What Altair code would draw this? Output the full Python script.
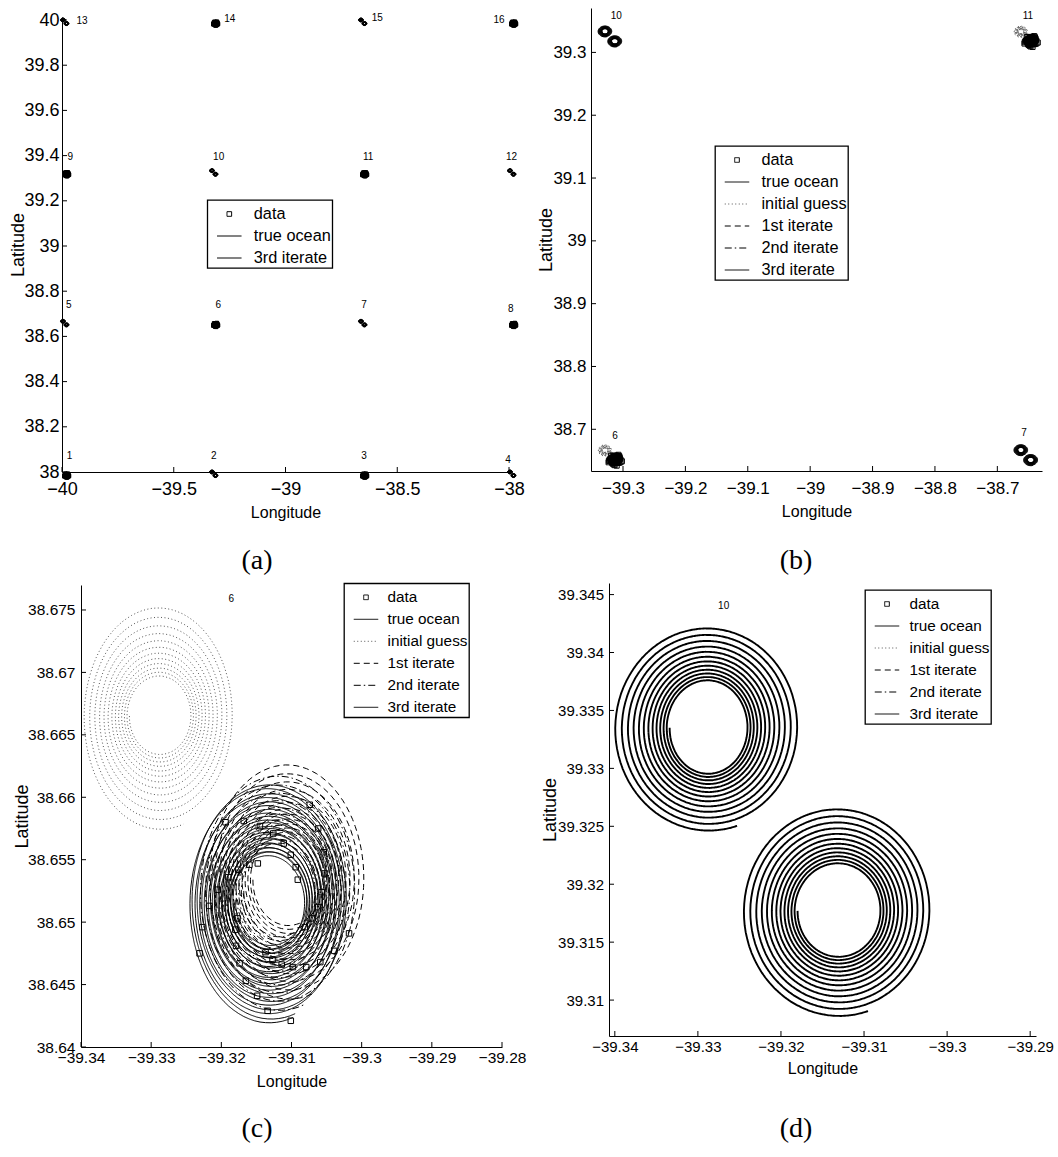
import numpy as np
import pandas as pd
import altair as alt

NARROW = "Liberation Sans Narrow, Arial Narrow, Liberation Sans, sans-serif"
SANS = "Liberation Sans, Arial, sans-serif"
SERIF = "Liberation Serif, Times New Roman, serif"

# ---------------- eddy grid (panel a) ----------------
GRID_LON = [-40.0, -39.3333, -38.6667, -38.0]
GRID_LAT = [38.0, 38.6667, 39.3333, 40.0]
# eddies 1..16, row by row from the south-west corner
EDDY_TYPE = ["A", "B", "A", "B", "B", "A", "B", "A",
             "A", "B", "A", "B", "B", "A", "B", "A"]

# eddy with drifter data (type A): spirals, offsets from the grid node (deg)
A_SERIES = ["initial guess", "true ocean", "1st iterate", "2nd iterate", "3rd iterate"]
A_DLON = [0.0045, 0.0200, 0.0228, 0.0215, 0.0203]
A_DLAT = [-0.0002, -0.0152, -0.0133, -0.0142, -0.0149]
A_RX_IN = [0.0043, 0.0050, 0.0050, 0.0050, 0.0050]
A_RY_IN = [0.0030, 0.0036, 0.0036, 0.0036, 0.0036]
A_RX_OUT = [0.0110, 0.0114, 0.0114, 0.0114, 0.0114]
A_RY_OUT = [0.0091, 0.0096, 0.0096, 0.0096, 0.0096]

# eddy without data (type B): iterates stay on the initial guess
B_SERIES = ["3rd iterate", "true ocean"]
B_DLON = [0.0045, 0.0202]
B_DLAT = [0.0002, -0.0156]
B_RX_IN = [0.0046, 0.0049]
B_RY_IN = [0.0039, 0.0039]
B_RX_OUT = [0.0114, 0.0116]
B_RY_OUT = [0.0089, 0.0091]

TURNS = 12.3
START_DEG = 180.0

# drifter positions around eddy 6
DATA_LON = [-39.3194, -39.3168, -39.3145, -39.3126, -39.3111, -39.3101, -39.3094, -39.3091,
            -39.3074, -39.3062, -39.3054, -39.3053, -39.3057, -39.3062, -39.3070, -39.3081,
            -39.3018, -39.3039, -39.3059, -39.3079, -39.3098, -39.3114, -39.3127, -39.3137,
            -39.3149, -39.3165, -39.3174, -39.3179, -39.3180, -39.3177, -39.3205, -39.3217,
            -39.3227, -39.3231, -39.3190, -39.3176, -39.3160, -39.3148, -39.3134, -39.3101]
DATA_LAT = [38.6580, 38.6581, 38.6577, 38.6571, 38.6563, 38.6554, 38.6544, 38.6534,
            38.6594, 38.6575, 38.6556, 38.6539, 38.6524, 38.6512, 38.6503, 38.6496,
            38.6491, 38.6477, 38.6468, 38.6464, 38.6464, 38.6466, 38.6470, 38.6476,
            38.6441, 38.6453, 38.6467, 38.6481, 38.6494, 38.6503, 38.6526, 38.6513,
            38.6496, 38.6475, 38.6536, 38.6542, 38.6546, 38.6547, 38.6429, 38.6421]

# eddy number labels
A_LAB_T = [str(i) for i in range(1, 17)]
A_LAB_LON = [-39.966, -39.321, -38.649, -38.004, -39.970, -39.301, -38.649, -37.992,
             -39.963, -39.299, -38.630, -37.989, -39.910, -39.249, -38.589, -38.045]
A_LAB_LAT = [38.073, 38.073, 38.069, 38.054, 38.738, 38.738, 38.738, 38.723,
             39.395, 39.395, 39.395, 39.395, 39.997, 40.004, 40.008, 40.000]
B_LAB_T = ["10", "11", "6", "7"]
B_LAB_LON = [-39.3107, -38.6509, -39.3128, -38.6573]
B_LAB_LAT = [39.3585, 39.3585, 38.6893, 38.6946]
C_LAB_T = ["6"]
C_LAB_LON = [-39.3186]
C_LAB_LAT = [38.6759]
D_LAB_T = ["10"]
D_LAB_LON = [-39.3269]
D_LAB_LAT = [39.3440]

# tick values
A_XT = [-40, -39.5, -39, -38.5, -38]
A_YT = [38, 38.2, 38.4, 38.6, 38.8, 39, 39.2, 39.4, 39.6, 39.8, 40]
B_XT = [-39.3, -39.2, -39.1, -39.0, -38.9, -38.8, -38.7]
B_YT = [38.7, 38.8, 38.9, 39.0, 39.1, 39.2, 39.3]
C_XT = [-39.34, -39.33, -39.32, -39.31, -39.30, -39.29, -39.28]
C_YT = [38.64, 38.645, 38.65, 38.655, 38.66, 38.665, 38.67, 38.675]
D_XT = [-39.34, -39.33, -39.32, -39.31, -39.30, -39.29]
D_YT = [39.31, 39.315, 39.32, 39.325, 39.33, 39.335, 39.34, 39.345]

SERIES_FULL = ["data", "true ocean", "initial guess", "1st iterate", "2nd iterate", "3rd iterate"]
SERIES_A = ["data", "true ocean", "3rd iterate"]
DASH = {"data": [1, 0], "true ocean": [1, 0], "initial guess": [1, 2.5],
        "1st iterate": [6, 4], "2nd iterate": [7, 3, 1.5, 3], "3rd iterate": [1, 0]}
COLOR = {"data": "black", "true ocean": "black", "initial guess": "#555555",
         "1st iterate": "black", "2nd iterate": "black", "3rd iterate": "black"}
SQUARE = "M-0.19,-0.19H0.19V0.19H-0.19Z"
SHAPE = {n: ("stroke" if n != "data" else SQUARE) for n in SERIES_FULL}


def spiral(cx, cy, rxi, ryi, rxo, ryo, ppt):
    n = int(round(TURNS * ppt)) + 1
    u = np.linspace(0.0, 1.0, n)
    th = np.deg2rad(START_DEG) + 2 * np.pi * TURNS * u
    x = cx + rxi * (rxo / rxi) ** u * np.cos(th)
    y = cy + ryi * (ryo / ryi) ** u * np.sin(th)
    return x, y


def eddy_node(k):
    return GRID_LON[(k - 1) % 4], GRID_LAT[(k - 1) // 4]


def eddy_lines(eddies, ppt, keep=None):
    rows = []
    sid = 0
    for k in eddies:
        gl, gt = eddy_node(k)
        if EDDY_TYPE[k - 1] == "A":
            spec = zip(A_SERIES, A_DLON, A_DLAT, A_RX_IN, A_RY_IN, A_RX_OUT, A_RY_OUT)
        else:
            spec = zip(B_SERIES, B_DLON, B_DLAT, B_RX_IN, B_RY_IN, B_RX_OUT, B_RY_OUT)
        for g, dlo, dla, rxi, ryi, rxo, ryo in spec:
            if keep is not None and g not in keep:
                continue
            x, y = spiral(gl + dlo, gt + dla, rxi, ryi, rxo, ryo, ppt)
            sid += 1
            for i in range(len(x)):
                rows.append((round(float(x[i]), 5), round(float(y[i]), 5), sid, i, g))
    return pd.DataFrame(rows, columns=["lon", "lat", "s", "o", "g"])


def eddy_data(eddies):
    rows = []
    n6 = eddy_node(6)
    for k in eddies:
        if EDDY_TYPE[k - 1] != "A":
            continue
        gl, gt = eddy_node(k)
        for lo, la in zip(DATA_LON, DATA_LAT):
            rows.append((round(lo + gl - n6[0], 5), round(la + gt - n6[1], 5), "data"))
    return pd.DataFrame(rows, columns=["lon", "lat", "g"])


def panel(P):
    w, h = P["w"], P["h"]
    off = P["yoff"]
    xs = dict(domain=P["xdom"], nice=False, zero=False)
    if P.get("xrange"):
        xs["range"] = P["xrange"]
    ys = dict(domain=P["ydom"], nice=False, zero=False)
    if P.get("yrange"):
        ys["range"] = P["yrange"]
    xaxis = alt.Axis(values=P["xt"], format=".6~g", ticks=False, tickSize=0, grid=False,
                     domainColor="black", domainWidth=1,
                     labelFont=NARROW, labelFontSize=P["lfs"], labelColor="black",
                     labelPadding=P["xlpad"], labelFlush=False, labelOverlap=False,
                     title="Longitude", titleFont=NARROW, titleFontSize=16,
                     titleFontWeight="normal", titleColor="black",
                     titleX=P["xtx"], titleY=P["xty"], titleBaseline="middle", titleAlign="center")
    yaxis = alt.Axis(values=P["yt"], format=".6~g", ticks=False, tickSize=0, grid=False,
                     domainColor="black", domainWidth=1, offset=-off,
                     labelFont=NARROW, labelFontSize=P["lfs"], labelColor="black",
                     labelPadding=P["ylpad"], labelFlush=False, labelOverlap=False,
                     title="Latitude", titleFont=SANS, titleFontSize=18,
                     titleFontWeight="normal", titleColor="black", titleAngle=270,
                     titleX=P["ytx"], titleY=P["yty"], titleBaseline="middle", titleAlign="center")
    X = alt.X("lon:Q", scale=alt.Scale(**xs), axis=xaxis)
    Y = alt.Y("lat:Q", scale=alt.Scale(**ys), axis=yaxis)

    names = P["series"]
    leg = alt.Legend(orient="none", legendX=P["legx"], legendY=P["legy"], title=None,
                     padding=1, symbolOffset=8, symbolSize=600, symbolStrokeWidth=1,
                     labelFont=NARROW, labelFontSize=P["legfs"], labelColor="black",
                     labelOffset=P["legoff"], rowPadding=0, strokeColor="black",
                     fillColor="white", labelExpr="datum.label + '\u00a0\u00a0'")
    dash = alt.StrokeDash("g:N", scale=alt.Scale(domain=names, range=[DASH[n] for n in names]), legend=leg)
    col = alt.Color("g:N", scale=alt.Scale(domain=names, range=[COLOR[n] for n in names]), legend=leg)
    shp = alt.Shape("g:N", scale=alt.Scale(domain=names, range=[SHAPE[n] for n in names]), legend=leg)

    lines = alt.Chart(P["lines"]).mark_line(strokeWidth=P["lw"]).encode(
        x=X, y=Y, detail="s:N", order="o:Q", strokeDash=dash, color=col)
    xt = alt.Chart(pd.DataFrame({"lon": P["xt"]})).mark_rule(color="black", strokeWidth=1).encode(
        x=X, y=alt.value(h), y2=alt.value(h - 5))
    yt = alt.Chart(pd.DataFrame({"lat": P["yt"]})).mark_rule(color="black", strokeWidth=1).encode(
        y=Y, x=alt.value(off), x2=alt.value(off + 5))
    pts = alt.Chart(P["pts"]).mark_point(filled=False, color="black", strokeWidth=1, opacity=1,
                                         size=P["msize"]).encode(x=X, y=Y, shape=shp)
    txt = alt.Chart(P["labels"]).mark_text(font=NARROW, fontSize=10, color="black").encode(
        x=X, y=Y, text="t:N")
    return alt.layer(lines, xt, yt, pts, txt).properties(
        width=w, height=h,
        title=alt.TitleParams(text=P["cap"], orient="bottom", anchor="middle", frame="group",
                              font=SERIF, fontSize=28, fontWeight="normal", color="black",
                              dx=P["capdx"], offset=P["capoff"]))


def labels(t, lo, la):
    return pd.DataFrame({"t": t, "lon": lo, "lat": la})


PA = dict(cap="(a)", w=447, h=464, xdom=[-40, -38], ydom=[38, 40.0133], yrange=[464, 9],
          xt=A_XT, yt=A_YT, yoff=0, lfs=18, xlpad=8.5, ylpad=3,
          xtx=223.5, xty=40, ytx=-43.7, yty=236.5,
          series=SERIES_A, legx=145.3, legy=192, legfs=16.3, legoff=11.5,
          lines=eddy_lines(range(1, 17), 16, keep=["true ocean", "3rd iterate"]),
          pts=eddy_data(range(1, 17)), msize=340, lw=0.8,
          labels=labels(A_LAB_T, A_LAB_LON, A_LAB_LAT), capdx=-28.5, capoff=26.5)
PB = dict(cap="(b)", w=451, h=463, xdom=[-39.3513, -38.6284], ydom=[38.6336, 39.3707],
          xt=B_XT, yt=B_YT, yoff=0, lfs=17, xlpad=9, ylpad=5,
          xtx=225.5, xty=40, ytx=-44.5, yty=231.5,
          series=SERIES_FULL, legx=124, legy=138, legfs=16.3, legoff=11.5,
          lines=eddy_lines([6, 7, 10, 11], 32), pts=eddy_data([6, 7, 10, 11]), msize=700, lw=1,
          labels=labels(B_LAB_T, B_LAB_LON, B_LAB_LAT), capdx=-20.5, capoff=27.5)
PC = dict(cap="(c)", w=440, h=464, xdom=[-39.34, -39.28], ydom=[38.64, 38.677],
          xrange=[19, 440], yrange=[464, 2],
          xt=C_XT, yt=C_YT, yoff=19, lfs=15.5, xlpad=3.3, ylpad=6,
          xtx=229.5, xty=34, ytx=-58.5, yty=233,
          series=SERIES_FULL, legx=282, legy=0.3, legfs=15.3, legoff=8.5,
          lines=eddy_lines([6], 90), pts=eddy_data([6]), msize=840, lw=1,
          labels=labels(C_LAB_T, C_LAB_LON, C_LAB_LAT), capdx=-25, capoff=26)
PD = dict(cap="(d)", w=445, h=453, xdom=[-39.3407, -39.2893], ydom=[39.3069, 39.3460],
          xrange=[18, 445],
          xt=D_XT, yt=D_YT, yoff=18, lfs=15, xlpad=3.2, ylpad=5.5,
          xtx=231.5, xty=32, ytx=-59, yty=226.5,
          series=SERIES_FULL, legx=274, legy=7, legfs=15.3, legoff=9.5,
          lines=eddy_lines([10], 90), pts=eddy_data([10]), msize=840, lw=1.9,
          labels=labels(D_LAB_T, D_LAB_LON, D_LAB_LAT), capdx=-17.5, capoff=39)

chart = alt.concat(panel(PA), panel(PB), panel(PC), panel(PD), columns=2,
                   spacing={"row": 111, "column": 82}, bounds="flush").resolve_scale(
    x="independent", y="independent", color="independent",
    strokeDash="independent", shape="independent").resolve_legend(
    color="independent", strokeDash="independent", shape="independent").properties(
    padding={"left": 9, "top": 8, "right": 4, "bottom": 4}
).configure_view(stroke=None).configure_legend(strokeWidth=1.3)

chart.save("out.html", embed_options={"renderer": "svg", "actions": False})
